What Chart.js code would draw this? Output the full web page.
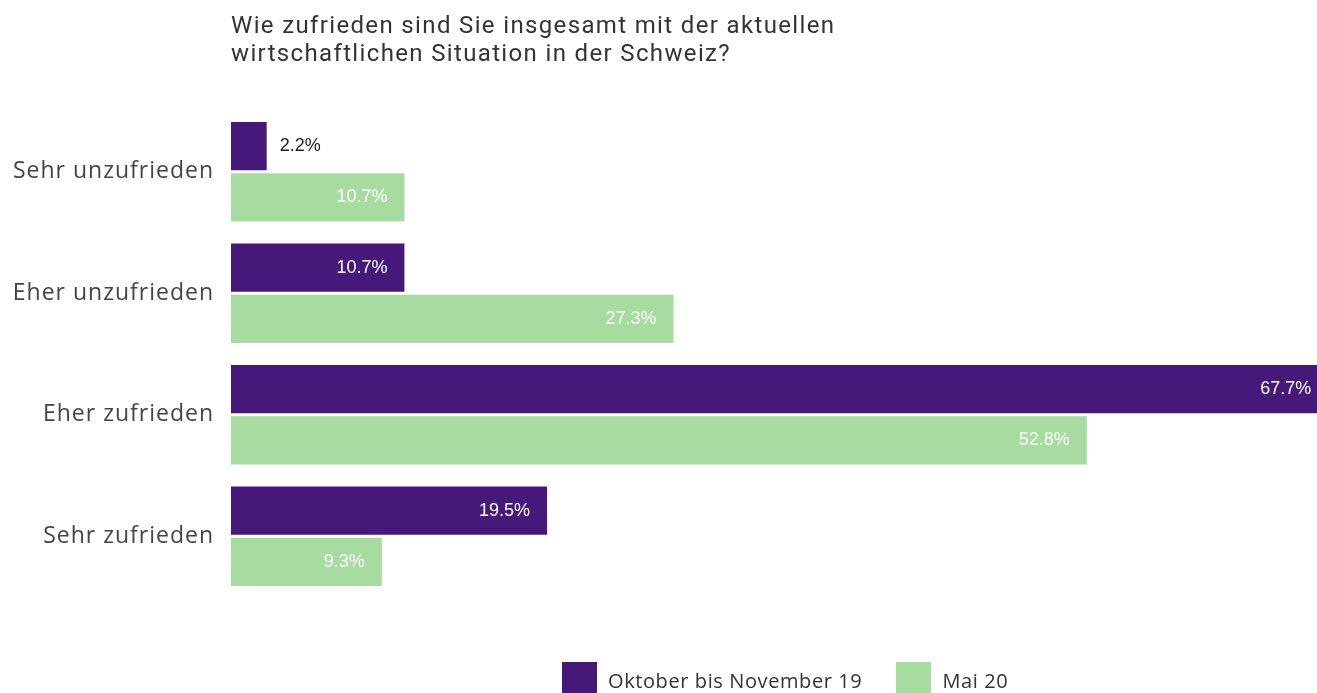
<!DOCTYPE html>
<html>
<head>
<meta charset="utf-8">
<script src="https://cdn.jsdelivr.net/npm/chart.js@4"></script>
<style>
  body { margin: 0; background: #fff; overflow: hidden; }
  #wrap { position: relative; width: 1317px; height: 693px; }
  #chart { position: absolute; left: 0; top: 0; }
  #title {
    position: absolute; left: 231px; top: 11px;
    font-family: Roboto, sans-serif; font-size: 24px; line-height: 28px;
    letter-spacing: 1.35px; color: #333;
  }
  #legend {
    position: absolute; left: 562px; top: 662px;
    display: flex; font-family: "Open Sans", sans-serif; font-size: 20px;
    letter-spacing: 0.6px; color: #333;
  }
  .item { display: flex; align-items: flex-start; margin-right: 34px; }
  .box { width: 35px; height: 35px; margin-right: 11px; }
  .item span { line-height: 37px; }
</style>
</head>
<body>
<div id="wrap">
  <canvas id="chart" width="1317" height="693"></canvas>
  <div id="title">Wie zufrieden sind Sie insgesamt mit der aktuellen<br>wirtschaftlichen Situation in der Schweiz?</div>
  <div id="legend"></div>
</div>
<script>
const kategorien = ['Sehr unzufrieden', 'Eher unzufrieden', 'Eher zufrieden', 'Sehr zufrieden'];
const serien = ['Oktober bis November 19', 'Mai 20'];
const oktNov19 = [2.2, 10.7, 67.7, 19.5];
const mai20 = [10.7, 27.3, 52.8, 9.3];
const farben = ['#46187a', '#a6dca0'];

// etwas Sperrung fuer die Achsenbeschriftung
const sperrung = {
  id: 'sperrung',
  beforeDraw(chart) { chart.ctx.letterSpacing = '1px'; }
};

// Beschriftung der Balken (Wert am Ende)
const wertLabels = {
  id: 'wertLabels',
  afterDatasetsDraw(chart) {
    const ctx = chart.ctx;
    ctx.save();
    ctx.letterSpacing = '0px';
    ctx.font = '18px "Liberation Sans", Arial, sans-serif';
    ctx.textBaseline = 'middle';
    chart.data.datasets.forEach((ds, i) => {
      chart.getDatasetMeta(i).data.forEach((bar, j) => {
        const v = ds.data[j];
        const txt = v.toFixed(1) + '%';
        if (v < 5) {
          ctx.fillStyle = '#222';
          ctx.textAlign = 'left';
          ctx.fillText(txt, bar.x + 13, bar.y);
        } else {
          ctx.fillStyle = '#fff';
          ctx.textAlign = 'right';
          ctx.fillText(txt, bar.x - 17, bar.y);
        }
      });
    });
    ctx.restore();
  }
};

new Chart(document.getElementById('chart'), {
  type: 'bar',
  data: {
    labels: kategorien,
    datasets: [
      { label: serien[0], data: oktNov19, backgroundColor: farben[0] },
      { label: serien[1], data: mai20, backgroundColor: farben[1] }
    ]
  },
  options: {
    indexAxis: 'y',
    responsive: false,
    animation: false,
    categoryPercentage: 0.845,
    barPercentage: 0.94,
    layout: { padding: { top: 111, bottom: 96, left: 0, right: 0 } },
    scales: {
      x: { display: false, min: 0, max: 67 },
      y: {
        grid: { display: false, drawTicks: false },
        border: { display: false },
        ticks: {
          padding: 17,
          color: '#444',
          font: { family: '"Open Sans", sans-serif', size: 23 }
        },
        afterFit(scale) { scale.width = 231; }
      }
    },
    plugins: {
      legend: { display: false },
      tooltip: { enabled: false }
    }
  },
  plugins: [sperrung, wertLabels]
});

// Legende unten
const legend = document.getElementById('legend');
serien.forEach((name, i) => {
  const item = document.createElement('div');
  item.className = 'item';
  item.innerHTML = '<div class="box" style="background:' + farben[i] + '"></div><span>' + name + '</span>';
  legend.appendChild(item);
});
</script>
</body>
</html>
